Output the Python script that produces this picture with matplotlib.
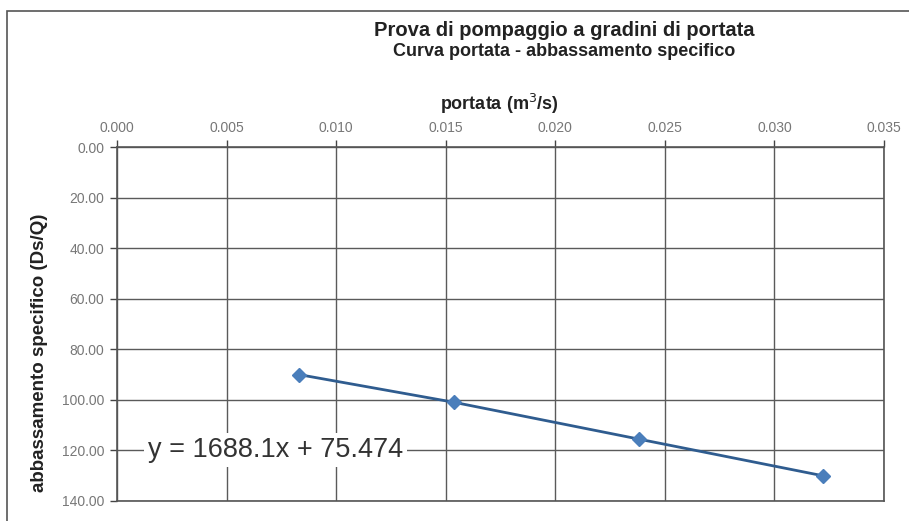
import matplotlib.pyplot as plt
from matplotlib.patches import Rectangle

# data
portata = [0.0083, 0.0154, 0.0238, 0.0322]
abbassamento = [90.0, 101.0, 115.5, 130.0]
x_ticks = [0.000, 0.005, 0.010, 0.015, 0.020, 0.025, 0.030, 0.035]
y_ticks = [0, 20, 40, 60, 80, 100, 120, 140]
equation = "y = 1688.1x + 75.474"

plt.rcParams['font.family'] = ['Liberation Sans', 'DejaVu Sans']

fig = plt.figure(figsize=(9.09, 5.21), dpi=100)
fig.patches.append(Rectangle((7 / 909, -0.05), 1.2, 1 - 11 / 521 + 0.05,
                             transform=fig.transFigure, fill=False,
                             edgecolor='#555555', linewidth=1.2))

ax = fig.add_axes([117 / 909, 1 - 501 / 521, (884 - 117) / 909, (501 - 147) / 521])

ax.plot(portata, abbassamento, color='#2f5c8f', linewidth=2, marker='D',
        markersize=7, markerfacecolor='#4a7ebb', markeredgecolor='#4a7ebb', zorder=3)

ax.set_xlim(0, 0.035)
ax.set_ylim(140, 0)
ax.set_xticks(x_ticks)
ax.set_yticks(y_ticks)
ax.set_xticklabels([f"{v:.3f}" for v in x_ticks])
ax.set_yticklabels([f"{v:.2f}" for v in y_ticks])
ax.xaxis.tick_top()
ax.tick_params(axis='both', labelsize=10, labelcolor='#777777', color='#444444',
               direction='out', length=5, width=1, pad=4)
ax.grid(True, color='#5a5a5a', linewidth=1)
for s in ax.spines.values():
    s.set_color('#555555')
    s.set_linewidth(1.2)

# titles and axis labels
fig.text(0.621, 1 - 30 / 521, "Prova di pompaggio a gradini di portata", ha='center',
         va='center', fontsize=14.5, fontweight='bold', color='#222222')
fig.text(0.621, 1 - 52 / 521, "Curva portata - abbassamento specifico", ha='center',
         va='center', fontsize=13, fontweight='bold', color='#222222')
fig.text(499 / 909, 1 - 104 / 521, "portata (m$^3$/s)", ha='center', va='center',
         fontsize=13, fontweight='bold', color='#222222')
fig.text(40 / 909, 1 - 353 / 521, "abbassamento specifico (Ds/Q)", ha='center',
         va='center', rotation=90, fontsize=13.5, fontweight='bold', color='#222222')

ax.text(0.00723, 120, equation, ha='center', va='center', fontsize=19.5, color='#333333',
        bbox=dict(facecolor='white', edgecolor='none', pad=3), zorder=4)

plt.savefig("out.png", dpi=100)
